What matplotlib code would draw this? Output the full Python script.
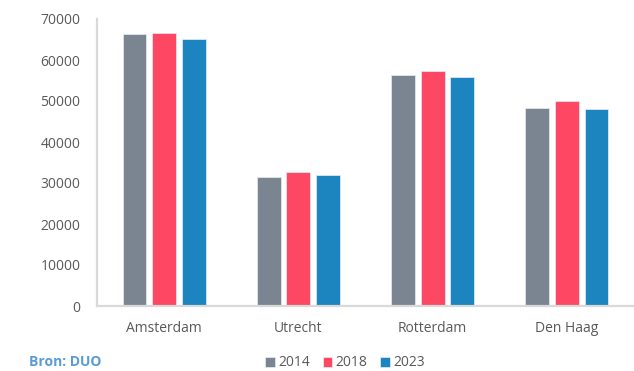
import numpy as np
import matplotlib.pyplot as plt

# Student counts per city
cities = ['Amsterdam', 'Utrecht', 'Rotterdam', 'Den Haag']
years = ['2014', '2018', '2023']
v2014 = [66300, 31500, 56300, 48200]
v2018 = [66600, 32600, 57400, 49900]
v2023 = [65100, 31900, 55900, 48000]

colors = ['#7b8592', '#fe4762', '#1c84be']
text_col = '#595959'

plt.rcParams['font.family'] = ['Open Sans', 'DejaVu Sans']

fig = plt.figure(figsize=(6.34, 3.71), dpi=100)
ax = fig.add_axes([97 / 634, 1 - 306 / 371, 1 - 97 / 634, (306 - 19) / 371])

x = np.arange(len(cities))
step = 0.221
width = 0.178
for i, (vals, yr) in enumerate(zip([v2014, v2018, v2023], years)):
    ax.bar(x + (i - 1) * step, vals, width, color=colors[i], label=yr,
           edgecolor='#e8eef5', linewidth=0.5)

ax.set_xlim(-0.5, 3.5)
ax.set_ylim(0, 70000)
ax.set_yticks(range(0, 70001, 10000))
ax.set_xticks(x)
ax.set_xticklabels(cities)
ax.tick_params(length=0, labelsize=10, colors=text_col)
ax.tick_params(axis='x', pad=11)
ax.tick_params(axis='y', pad=12)

for s in ['top', 'right']:
    ax.spines[s].set_visible(False)
for s in ['left', 'bottom']:
    ax.spines[s].set_color('#d9d9d9')
    ax.spines[s].set_linewidth(1.6)

fig.legend(loc='center', bbox_to_anchor=(345 / 634, 1 - 363 / 371), ncol=3,
           frameon=False, handlelength=0.7, handleheight=0.7, handletextpad=0.25,
           columnspacing=0.9, fontsize=10, labelcolor=text_col)

fig.text(29 / 634, 1 - 362 / 371, 'Bron: DUO', color='#5b9bd5', fontsize=10,
         fontweight='bold', va='center', ha='left')

fig.savefig('out.png', dpi=100)
